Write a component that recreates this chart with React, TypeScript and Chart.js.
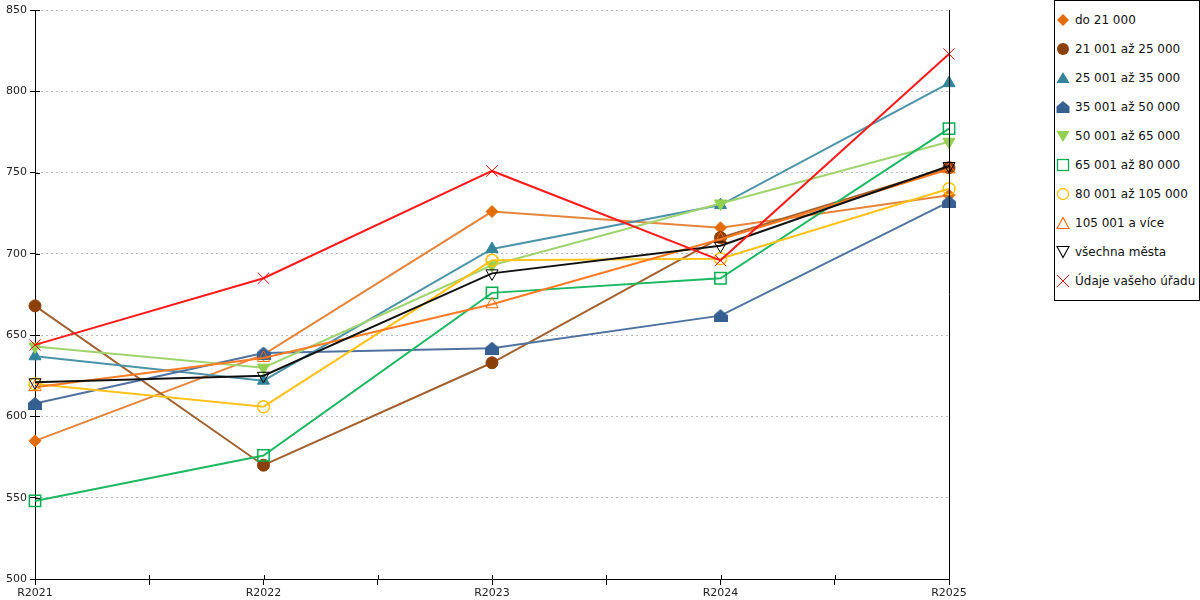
import { useEffect, useRef } from 'react';
import { Chart, registerables } from 'chart.js';

Chart.register(...registerables);

const years = ['R2021', 'R2022', 'R2023', 'R2024', 'R2025'];
const seriesNames = [
  'do 21 000',
  '21 001 až 25 000',
  '25 001 až 35 000',
  '35 001 až 50 000',
  '50 001 až 65 000',
  '65 001 až 80 000',
  '80 001 až 105 000',
  '105 001 a více',
  'všechna města',
  'Údaje vašeho úřadu',
];
const do21000 = [585, 638, 726, 716, 736];
const od21do25 = [668, 570, 633, 710, 753];
const od25do35 = [637, 622, 703, 730, 805];
const od35do50 = [608, 639, 642, 662, 732];
const od50do65 = [643, 630, 693, 731, 769];
const od65do80 = [548, 576, 676, 685, 777];
const od80do105 = [620, 606, 696, 697, 740];
const nad105 = [618, 636, 669, 709, 752];
const vsechnaMesta = [621, 625, 688, 705, 754];
const vasUrad = [644, 685, 751, 696, 823];
const yMin = 500;
const yMax = 850;
const yStep = 50;

const values = [do21000, od21do25, od25do35, od35do50, od50do65, od65do80, od80do105, nad105, vsechnaMesta, vasUrad];

type Marker = 'diamond' | 'circle' | 'triangle' | 'house' | 'down' | 'square' | 'ring' | 'openTri' | 'openDown' | 'x';

// marker look for each series
const looks: { marker: Marker; color: string; line: string }[] = [
  { marker: 'diamond', color: '#E36C0A', line: '#E5843A' },
  { marker: 'circle', color: '#8B4009', line: '#A2602F' },
  { marker: 'triangle', color: '#31849B', line: '#4A93A8' },
  { marker: 'house', color: '#376092', line: '#50729F' },
  { marker: 'down', color: '#92D050', line: '#A0D46E' },
  { marker: 'square', color: '#00B050', line: '#1CB862' },
  { marker: 'ring', color: '#FFC000', line: '#FFC21A' },
  { marker: 'openTri', color: '#FF6600', line: '#FF7A22' },
  { marker: 'openDown', color: '#000000', line: '#111111' },
  { marker: 'x', color: '#FF0000', line: '#FF1A1A' },
];

const FONT = '"DejaVu Sans", Verdana, sans-serif';

function houseImage(color: string) {
  const c = document.createElement('canvas');
  c.width = 14;
  c.height = 13;
  const g = c.getContext('2d')!;
  g.fillStyle = color;
  g.beginPath();
  g.moveTo(7, 0);
  g.lineTo(14, 6);
  g.lineTo(14, 13);
  g.lineTo(0, 13);
  g.lineTo(0, 6);
  g.closePath();
  g.fill();
  return c;
}

function pointOpts(m: Marker, color: string) {
  switch (m) {
    case 'diamond':
      return { pointStyle: 'rectRot', pointRadius: 6, pointBackgroundColor: color, pointBorderColor: color, pointBorderWidth: 1 };
    case 'circle':
      return { pointStyle: 'circle', pointRadius: 6, pointBackgroundColor: color, pointBorderColor: color, pointBorderWidth: 1 };
    case 'triangle':
      return { pointStyle: 'triangle', pointRadius: 7, pointBackgroundColor: color, pointBorderColor: color, pointBorderWidth: 1 };
    case 'house':
      return { pointStyle: houseImage(color), pointRadius: 7 };
    case 'down':
      return { pointStyle: 'triangle', pointRotation: 180, pointRadius: 7, pointBackgroundColor: color, pointBorderColor: color, pointBorderWidth: 1 };
    case 'square':
      return { pointStyle: 'rect', pointRadius: 8, pointBackgroundColor: 'rgba(255,255,255,0)', pointBorderColor: color, pointBorderWidth: 1.5 };
    case 'ring':
      return { pointStyle: 'circle', pointRadius: 6, pointBackgroundColor: 'rgba(255,255,255,0)', pointBorderColor: color, pointBorderWidth: 1.5 };
    case 'openTri':
      return { pointStyle: 'triangle', pointRadius: 7, pointBackgroundColor: 'rgba(255,255,255,0)', pointBorderColor: color, pointBorderWidth: 1 };
    case 'openDown':
      return { pointStyle: 'triangle', pointRotation: 180, pointRadius: 7, pointBackgroundColor: 'rgba(255,255,255,0)', pointBorderColor: color, pointBorderWidth: 1 };
    default:
      return { pointStyle: 'crossRot', pointRadius: 8, pointBorderColor: color, pointBorderWidth: 1 };
  }
}

// inner halves of the tick marks + right frame line
const framePlugin = {
  id: 'frame',
  afterDatasetsDraw(chart: any) {
    const { ctx, chartArea: a, scales } = chart;
    ctx.save();
    ctx.strokeStyle = '#000';
    ctx.lineWidth = 1;
    ctx.beginPath();
    const r = Math.round(a.right) + 0.5;
    ctx.moveTo(r, a.top);
    ctx.lineTo(r, a.bottom);
    scales.y.ticks.forEach((t: any) => {
      const y = Math.round(scales.y.getPixelForValue(t.value)) + 0.5;
      ctx.moveTo(a.left, y);
      ctx.lineTo(a.left + 5, y);
    });
    scales.x.ticks.forEach((t: any) => {
      const x = Math.round(scales.x.getPixelForValue(t.value)) + 0.5;
      ctx.moveTo(x, a.bottom);
      ctx.lineTo(x, a.bottom - 4);
    });
    ctx.stroke();
    ctx.restore();
  },
};

const LegendMarker = ({ m, color }: { m: Marker; color: string }) => {
  let shape;
  switch (m) {
    case 'diamond':
      shape = <polygon points="7,1 13,7 7,13 1,7" fill={color} />;
      break;
    case 'circle':
      shape = <circle cx="7" cy="7" r="6" fill={color} />;
      break;
    case 'triangle':
      shape = <polygon points="7,1 13.5,12 0.5,12" fill={color} />;
      break;
    case 'house':
      shape = <polygon points="7,1 13.5,6.5 13.5,13 0.5,13 0.5,6.5" fill={color} />;
      break;
    case 'down':
      shape = <polygon points="0.5,2 13.5,2 7,13" fill={color} />;
      break;
    case 'square':
      shape = <rect x="1.5" y="1.5" width="11" height="11" fill="none" stroke={color} strokeWidth="1.3" />;
      break;
    case 'ring':
      shape = <circle cx="7" cy="7" r="5.5" fill="none" stroke={color} strokeWidth="1.3" />;
      break;
    case 'openTri':
      shape = <polygon points="7,1.5 13,12.5 1,12.5" fill="none" stroke={color} strokeWidth="1.1" />;
      break;
    case 'openDown':
      shape = <polygon points="1,1.5 13,1.5 7,12.5" fill="none" stroke={color} strokeWidth="1.1" />;
      break;
    default:
      shape = (
        <g stroke={color} strokeWidth="1">
          <line x1="1" y1="1" x2="13" y2="13" />
          <line x1="13" y1="1" x2="1" y2="13" />
        </g>
      );
  }
  return (
    <svg width="14" height="14" style={{ display: 'block' }}>
      {shape}
    </svg>
  );
};

const App = () => {
  const chartRef = useRef<HTMLCanvasElement>(null);

  useEffect(() => {
    const ctx = chartRef.current?.getContext('2d');
    if (!ctx) return;

    const datasets = values.map((vals, i) => ({
      label: seriesNames[i],
      data: vals.map((v, j) => ({ x: j, y: v })),
      borderColor: looks[i].line,
      borderWidth: 2,
      fill: false,
      tension: 0,
      clip: false,
      order: values.length - i,
      ...pointOpts(looks[i].marker, looks[i].color),
    }));

    const chartInstance = new Chart(ctx, {
      type: 'line',
      data: { datasets: datasets as any },
      plugins: [framePlugin],
      options: {
        responsive: false,
        animation: false,
        layout: { padding: { top: 10, right: 51, left: 0, bottom: 0 } },
        plugins: { legend: { display: false }, tooltip: { enabled: false } },
        scales: {
          x: {
            type: 'linear',
            min: 0,
            max: years.length - 1,
            afterFit: (s: any) => {
              s.height = 21;
            },
            afterBuildTicks: (s: any) => {
              const t = [];
              for (let v = 0; v <= years.length - 1; v += 0.5) t.push({ value: v });
              s.ticks = t;
            },
            ticks: {
              autoSkip: false,
              maxRotation: 0,
              padding: 2,
              color: '#222',
              font: { family: FONT, size: 11 },
              callback: (v: any) => (Number.isInteger(v) ? years[v] : ''),
            },
            grid: { drawOnChartArea: false, drawTicks: true, tickLength: 6, tickColor: '#000' },
            border: { color: '#000', width: 1 },
          },
          y: {
            min: yMin,
            max: yMax,
            afterFit: (s: any) => {
              s.width = 35;
            },
            ticks: {
              stepSize: yStep,
              padding: 3,
              color: '#222',
              font: { family: FONT, size: 11 },
            },
            grid: {
              color: '#BBBBBB',
              lineWidth: 1,
              tickLength: 5,
              tickColor: '#000',
              tickBorderDash: [],
            },
            border: { color: '#000', width: 1, dash: [2, 3] },
          },
        },
      },
    });

    return () => chartInstance.destroy();
  }, []);

  return (
    <div style={{ position: 'absolute', left: 0, top: 0, width: 1200, height: 600, background: '#fff', fontFamily: FONT }}>
      <canvas ref={chartRef} width={1000} height={600} style={{ position: 'absolute', left: 0, top: 0 }} />

      {/* legend box */}
      <div
        style={{
          position: 'absolute',
          left: 1054,
          top: 0,
          width: 144,
          height: 299,
          border: '1px solid #000',
        }}
      >
        {seriesNames.map((name, i) => (
          <div
            key={name}
            style={{ position: 'absolute', left: 1, top: 11 + i * 29, height: 16, display: 'flex', alignItems: 'center' }}
          >
            <LegendMarker m={looks[i].marker} color={looks[i].color} />
            <span style={{ marginLeft: 5, fontSize: 12, color: '#111', whiteSpace: 'nowrap' }}>{name}</span>
          </div>
        ))}
      </div>
    </div>
  );
};

export default App;
